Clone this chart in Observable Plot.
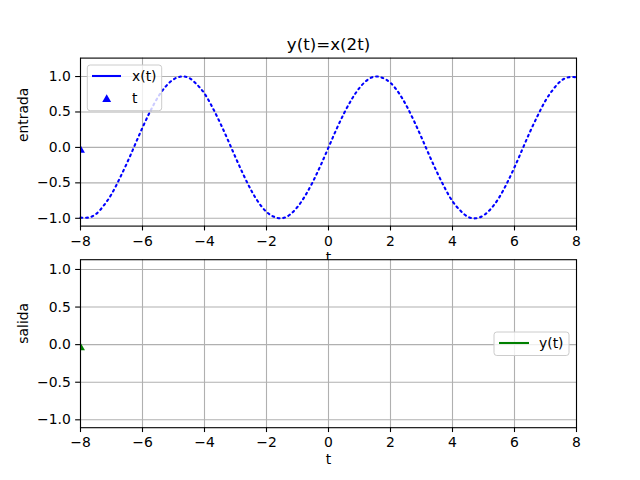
<!DOCTYPE html>
<html><head><meta charset="utf-8">
<script src="https://cdn.jsdelivr.net/npm/d3@7"></script>
<script src="https://cdn.jsdelivr.net/npm/@observablehq/plot@0.6"></script>
<style>
body{margin:0;background:white;}
#fig{position:relative;width:640px;height:480px;background:white;}
#fig svg{position:absolute;left:0;top:0;}
</style></head><body><div id="fig"></div>
<script>
const title = "y(t)=x(2t)";
const tValues = [-8,-7.75,-7.5,-7.25,-7,-6.75,-6.5,-6.25,-6,-5.75,-5.5,-5.25,-5,-4.75,-4.5,-4.25,-4,-3.75,-3.5,-3.25,-3,-2.75,-2.5,-2.25,-2,-1.75,-1.5,-1.25,-1,-0.75,-0.5,-0.25,0,0.25,0.5,0.75,1,1.25,1.5,1.75,2,2.25,2.5,2.75,3,3.25,3.5,3.75,4,4.25,4.5,4.75,5,5.25,5.5,5.75,6,6.25,6.5,6.75,7,7.25,7.5,7.75,8];
const xValues = [-0.99,-0.99,-0.94,-0.82,-0.66,-0.45,-0.22,0.03,0.28,0.51,0.71,0.86,0.96,1.00,0.98,0.89,0.76,0.57,0.35,0.11,-0.14,-0.38,-0.60,-0.78,-0.91,-0.98,-1.00,-0.95,-0.84,-0.68,-0.48,-0.25,0,0.25,0.48,0.68,0.84,0.95,1.00,0.98,0.91,0.78,0.60,0.38,0.14,-0.11,-0.35,-0.57,-0.76,-0.89,-0.98,-1.00,-0.96,-0.86,-0.71,-0.51,-0.28,-0.03,0.22,0.45,0.66,0.82,0.94,0.99,0.99];
const markT = [-8];
const markTopY = [-0.04];
const markBottomY = [-0.04];
const xTicks = [-8,-6,-4,-2,0,2,4,6,8];
const yTicks = [-1,-0.5,0,0.5,1];
const xLabel = "t";
const topYLabel = "entrada";
const bottomYLabel = "salida";
const legendTop = ["x(t)", "t"];
const legendBottom = ["y(t)"];

const font = "'DejaVu Sans', sans-serif";
const FS = 13.9;
const fmtX = d => (d < 0 ? "\u2212" : "") + Math.abs(d);
const fmtY = d => (d < 0 ? "\u2212" : "") + Math.abs(d).toFixed(1);
const grid = "#b0b0b0";

const lineData = tValues.map((t, i) => ({t, x: xValues[i]}));
const topMarks = markT.map((t, i) => ({t, y: markTopY[i]}));
const botMarks = markT.map((t, i) => ({t, y: markBottomY[i]}));

function axesMarks(yLabel) {
  return [
    Plot.frame({stroke: "black", strokeWidth: 1.1}),
    Plot.axisX(xTicks, {tickSize: 4.86, tickPadding: 4.86, tickFormat: fmtX, label: null, fontSize: FS, strokeWidth: 1.1}),
    Plot.axisY(yTicks, {tickSize: 4.86, tickPadding: 4.86, tickFormat: fmtY, label: null, fontSize: FS, strokeWidth: 1.1}),
    Plot.text([xLabel], {text: d => d, frameAnchor: "bottom", dy: 36, fontSize: FS}),
    Plot.text([yLabel], {text: d => d, frameAnchor: "left", dx: -56.5, rotate: -90, fontSize: FS})
  ];
}

const topPlot = Plot.plot({
  width: 640, height: 480,
  marginLeft: 80, marginRight: 64, marginTop: 57.6, marginBottom: 254.4,
  x: {domain: [-8, 8]}, y: {domain: [-1.11, 1.26]},
  style: {fontFamily: font, fontSize: FS + "px", background: "transparent", overflow: "visible"},
  marks: [
    Plot.gridX(xTicks, {stroke: grid, strokeOpacity: 1, strokeWidth: 1.1}),
    Plot.gridY(yTicks, {stroke: grid, strokeOpacity: 1, strokeWidth: 1.1}),
    Plot.line(lineData, {x: "t", y: "x", stroke: "#0000ff", strokeWidth: 2.08, strokeDasharray: "1.8,3.8", curve: "natural"}),
    Plot.dot(topMarks, {x: "t", y: "y", symbol: "triangle", r: 3.3, fill: "#0000ff", stroke: "none", clip: true}),
    ...axesMarks(topYLabel),
    Plot.text([title], {text: d => d, frameAnchor: "top", dy: -8.3, lineAnchor: "bottom", fontSize: 16.67})
  ]
});

const botPlot = Plot.plot({
  width: 640, height: 480,
  marginLeft: 80, marginRight: 64, marginTop: 259.2, marginBottom: 52.8,
  x: {domain: [-8, 8]}, y: {domain: [-1.105, 1.13]},
  style: {fontFamily: font, fontSize: FS + "px", background: "transparent", overflow: "visible"},
  marks: [
    Plot.frame({fill: "white"}),
    Plot.gridX(xTicks, {stroke: grid, strokeOpacity: 1, strokeWidth: 1.1}),
    Plot.gridY(yTicks, {stroke: grid, strokeOpacity: 1, strokeWidth: 1.1}),
    Plot.dot(botMarks, {x: "t", y: "y", symbol: "triangle", r: 3.3, fill: "#008000", stroke: "none", clip: true}),
    ...axesMarks(bottomYLabel)
  ]
});

const fig = document.getElementById("fig");
fig.appendChild(topPlot);
fig.appendChild(botPlot);

function legendBox(svg, x, y, w, h) {
  svg.append("rect").attr("x", x).attr("y", y).attr("width", w).attr("height", h)
    .attr("rx", 2.8).attr("fill", "white").attr("fill-opacity", 0.8)
    .attr("stroke", "#cccccc").attr("stroke-width", 1);
}
function legendText(svg, x, y, s) {
  svg.append("text").attr("x", x).attr("y", y).attr("dy", "0.35em")
    .attr("text-anchor", "start")
    .attr("font-family", font).attr("font-size", FS).attr("fill", "black").text(s);
}
// top legend
{
  const g = d3.select(topPlot).append("g");
  legendBox(g, 87.3, 65, 74.4, 45.7);
  g.append("line").attr("x1", 92).attr("x2", 121).attr("y1", 76).attr("y2", 76)
    .attr("stroke", "#0000ff").attr("stroke-width", 2.08);
  legendText(g, 132, 76, legendTop[0]);
  g.append("path").attr("d", d3.symbol(d3.symbolTriangle, Math.PI * 3.3 * 3.3)())
    .attr("transform", "translate(106.7,99.5)").attr("fill", "#0000ff");
  legendText(g, 132, 98, legendTop[1]);
}
// bottom legend
{
  const g = d3.select(botPlot).append("g");
  legendBox(g, 494, 332, 75, 23.5);
  g.append("line").attr("x1", 499).attr("x2", 529).attr("y1", 343).attr("y2", 343)
    .attr("stroke", "#008000").attr("stroke-width", 2.08);
  legendText(g, 539, 343, legendBottom[0]);
}
</script></body></html>
